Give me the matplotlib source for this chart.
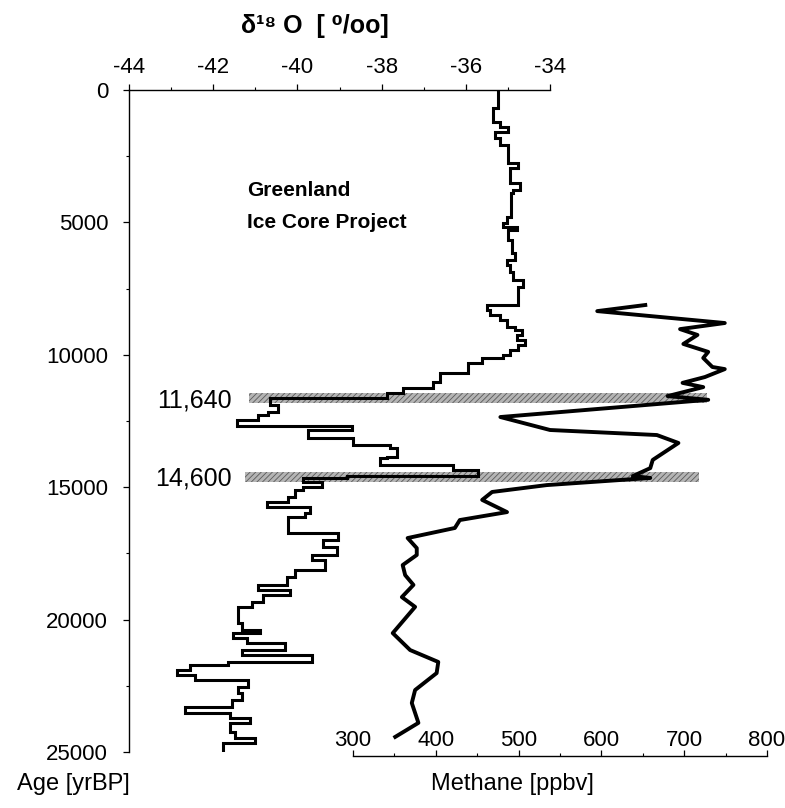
import matplotlib
matplotlib.use('Agg')
import matplotlib.pyplot as plt
from matplotlib.patches import Rectangle
from matplotlib.ticker import MultipleLocator

plt.rcParams['font.family'] = ['Liberation Sans', 'DejaVu Sans']
plt.rcParams['axes.unicode_minus'] = False
plt.rcParams['hatch.linewidth'] = 0.6

# d18O step record: age where each step starts, and its value
d18o_age = [0, 680, 1210, 1400, 1590, 1810, 2080, 2760, 2950, 3510, 3780, 3890,
            4800, 5020, 5170, 5290, 5660, 6160, 6420, 6610, 6870, 7180, 7440,
            8120, 8310, 8500, 8690, 8950, 9060, 9250, 9440, 9630, 9820, 10010,
            10120, 10310, 10690, 11030, 11250, 11440, 11640, 11900, 12160, 12270,
            12460, 12690, 12840, 13140, 13410, 13520, 13860, 13900, 14160, 14350,
            14560, 14650, 14800, 14990, 15110, 15370, 15560, 15750, 15970, 16130,
            16730, 16990, 17260, 17560, 17750, 18130, 18390, 18690, 18880, 19070,
            19340, 19520, 20130, 20390, 20510, 20690, 20880, 21150, 21340, 21600,
            21710, 21900, 22090, 22280, 22540, 22770, 23030, 23300, 23530, 23720,
            23900, 24240, 24470, 24660]
d18o_val = [-35.24, -35.35, -35.19, -35.00, -35.31, -35.19, -35.00, -34.76, -34.95,
            -34.71, -34.88, -34.93, -35.02, -35.12, -34.78, -35.00, -34.90, -34.83,
            -35.02, -34.95, -34.88, -34.64, -34.76, -35.50, -35.43, -35.19, -35.02,
            -34.83, -34.67, -34.78, -34.59, -34.76, -34.95, -35.12, -35.62, -35.95,
            -36.61, -36.78, -37.49, -37.87, -40.65, -40.46, -40.70, -40.94, -41.43,
            -38.70, -39.75, -38.68, -37.80, -37.63, -37.87, -38.04, -36.30, -35.71,
            -38.82, -39.87, -39.42, -39.87, -40.06, -40.22, -40.72, -39.70, -39.82,
            -40.22, -39.04, -39.39, -39.06, -39.65, -39.34, -40.06, -40.25, -40.94,
            -40.18, -40.82, -41.08, -41.41, -41.32, -40.89, -41.53, -41.20, -40.29,
            -41.32, -39.65, -41.65, -42.55, -42.86, -42.43, -41.17, -41.41, -41.32,
            -41.55, -42.67, -41.60, -41.13, -41.60, -41.48, -41.01, -41.77]
d18o_last_age = 24930

# methane record
ch4_age = [8120, 8350, 8800, 9030, 9250, 9590, 9890, 10120, 10460, 10540, 10840,
           11060, 11220, 11560, 11700, 12350, 12840, 13030, 13330, 13970, 14280,
           14580, 14650, 14920, 15180, 15480, 15940, 16240, 16540, 16920, 17300,
           17560, 17940, 18320, 18690, 19150, 19520, 20510, 21150, 21600, 22020,
           22660, 23150, 23900, 24430]
ch4_val = [653, 595, 749, 695, 716, 699, 729, 723, 734, 749, 725, 698, 723, 680,
           729, 478, 538, 667, 693, 662, 659, 638, 659, 534, 468, 456, 486, 429,
           423, 366, 377, 377, 360, 363, 373, 359, 375, 348, 369, 403, 401, 375,
           371, 379, 351]

events = [11640, 14600]
event_labels = ['11,640', '14,600']

W, H = 785, 808
fig = plt.figure(figsize=(W / 100, H / 100), dpi=100)

# main axes: d18O on top, age on the left
ax = fig.add_axes([129 / W, 1 - 752 / H, 421 / W, 662 / H])
ax.set_xlim(-44, -34)
ax.set_ylim(25000, 0)
ax.xaxis.set_ticks_position('top')
ax.xaxis.set_label_position('top')
ax.spines['right'].set_visible(False)
ax.spines['bottom'].set_visible(False)
for s in ('left', 'top'):
    ax.spines[s].set_linewidth(1.0)
ax.xaxis.set_major_locator(MultipleLocator(2))
ax.xaxis.set_minor_locator(MultipleLocator(1))
ax.yaxis.set_major_locator(MultipleLocator(5000))
ax.yaxis.set_minor_locator(MultipleLocator(2500))
ax.tick_params(which='major', length=4, width=0.9, labelsize=16)
ax.tick_params(which='minor', length=2.5, width=0.8)
ax.tick_params(axis='x', pad=5)
ax.tick_params(axis='y', pad=11)
ax.patch.set_visible(False)

# step line
xs, ys = [], []
ends = d18o_age[1:] + [d18o_last_age]
for a0, a1, v in zip(d18o_age, ends, d18o_val):
    xs += [v, v]
    ys += [a0, a1]
ax.plot(xs, ys, color='black', lw=2.2, solid_joinstyle='miter', zorder=3)

# shaded event bands
band_x = [(-41.15, -30.27), (-41.25, -30.45)]
for ev, (x0, x1), lab in zip(events, band_x, event_labels):
    ax.add_patch(Rectangle((x0, ev - 190), x1 - x0, 380, facecolor='#b4b4b4',
                           edgecolor='#5a5a5a', linewidth=0, hatch='//////',
                           clip_on=False, zorder=1))
    ax.text(-41.55, ev + 80, lab, ha='right', va='center', fontsize=18)

# methane axis
ax2 = fig.add_axes([353 / W, 1 - 752 / H, 414 / W, 662 / H])
ax2.patch.set_visible(False)
ax2.set_xlim(300, 800)
ax2.set_ylim(25000, 0)
ax2.yaxis.set_visible(False)
for s in ('top', 'left', 'right'):
    ax2.spines[s].set_visible(False)
ax2.spines['bottom'].set_position(('outward', 3))
ax2.spines['bottom'].set_linewidth(1.0)
ax2.xaxis.set_major_locator(MultipleLocator(100))
ax2.xaxis.set_minor_locator(MultipleLocator(50))
ax2.tick_params(axis='x', which='both', direction='in', labelsize=16, pad=-19)
ax2.tick_params(axis='x', which='major', length=4, width=0.9)
ax2.tick_params(axis='x', which='minor', length=2.5, width=0.8)
ax2.plot(ch4_val, ch4_age, color='black', lw=2.8, zorder=3)

fig.text(315 / W, 1 - 26 / H, 'δ¹⁸ O  [ ⁰/oo]', ha='center', va='center',
         fontsize=18, fontweight='bold')
fig.text(247 / W, 1 - 190 / H, 'Greenland', va='center', fontsize=15, fontweight='bold')
fig.text(247 / W, 1 - 222 / H, 'Ice Core Project', va='center', fontsize=15,
         fontweight='bold')
fig.text(17 / W, 1 - 784 / H, 'Age [yrBP]', va='center', fontsize=17)
fig.text(512 / W, 1 - 784 / H, 'Methane [ppbv]', ha='center', va='center', fontsize=17)

fig.savefig('out.png', dpi=100)
